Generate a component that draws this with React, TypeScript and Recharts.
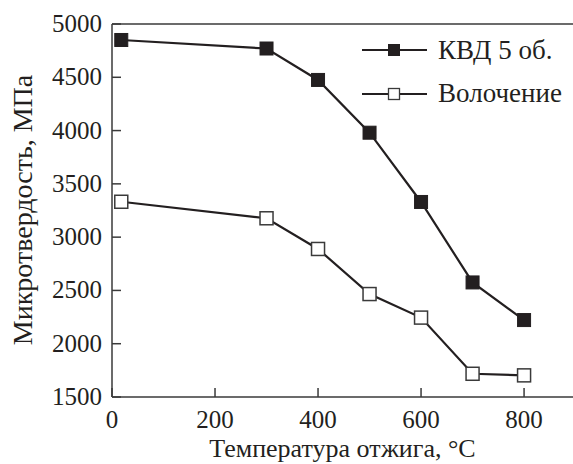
import React from 'react';
import { LineChart, Line, XAxis, YAxis, ReferenceLine, Label } from 'recharts';

const temperatures = [18, 300, 400, 500, 600, 700, 800];
const hptValues = [4850, 4770, 4475, 3980, 3330, 2575, 2222];
const drawingValues = [3332, 3177, 2889, 2466, 2245, 1718, 1703];
const xTicks = [0, 200, 400, 600, 800];
const yTicks = [1500, 2000, 2500, 3000, 3500, 4000, 4500, 5000];
const seriesNames = ['КВД 5 об.', 'Волочение'];
const xLabel = 'Температура отжига, °C';
const yLabel = 'Микротвердость, МПа';

const data = temperatures.map((t, i) => ({ t, hpt: hptValues[i], drawing: drawingValues[i] }));

const FONT = 'Liberation Serif';
const INK = '#231f20';
const AXIS = '#3a3a3a';
const textStyle = (size: number): React.CSSProperties => ({ fontFamily: FONT, fontSize: size, fill: INK });

const XTick = (props: any) => {
  const { x, y, payload } = props;
  return (
    <g>
      <line x1={x} x2={x} y1={y} y2={y - 9} stroke={AXIS} strokeWidth={1.5} />
      <text x={x} y={y + 31} textAnchor="middle" style={textStyle(25)}>
        {payload.value}
      </text>
    </g>
  );
};

const YTick = (props: any) => {
  const { x, y, payload } = props;
  return (
    <g>
      <line x1={x} x2={x + 9} y1={y} y2={y} stroke={AXIS} strokeWidth={1.5} />
      <text x={x - 10} y={y + 8} textAnchor="end" style={textStyle(25)}>
        {payload.value}
      </text>
    </g>
  );
};

const FilledSquare = (props: any) => {
  const { cx, cy } = props;
  if (cx == null || cy == null) return null;
  return <rect x={cx - 6.5} y={cy - 6.5} width={13} height={13} fill={INK} stroke={INK} strokeWidth={1} />;
};

const OpenSquare = (props: any) => {
  const { cx, cy } = props;
  if (cx == null || cy == null) return null;
  return <rect x={cx - 6.5} y={cy - 6.5} width={13} height={13} fill="#ffffff" stroke={AXIS} strokeWidth={1.5} />;
};

const LegendOverlay = () => (
  <svg width={223} height={90} style={{ position: 'absolute', left: 350, top: 30 }}>
    <line x1={12} x2={77} y1={20} y2={20} stroke={INK} strokeWidth={2.2} />
    <rect x={38} y={14} width={12} height={12} fill={INK} />
    <text x={88} y={28.5} style={textStyle(27)}>{seriesNames[0]}</text>
    <line x1={12} x2={77} y1={64} y2={64} stroke={INK} strokeWidth={2.2} />
    <rect x={38.5} y={58.5} width={11} height={11} fill="#ffffff" stroke={AXIS} strokeWidth={1.3} />
    <text x={88} y={72} style={textStyle(27)}>{seriesNames[1]}</text>
  </svg>
);

export default function App() {
  return (
    <div style={{ position: 'absolute', left: 0, top: 0, width: 573, height: 464, background: '#fff', fontFamily: FONT }}>
      <LineChart width={573} height={464} data={data} margin={{ top: 24, right: 0, bottom: 0, left: 0 }}>
        <XAxis
          type="number"
          dataKey="t"
          domain={[0, 895]}
          ticks={xTicks}
          interval={0}
          height={67}
          tickSize={0}
          tickMargin={0}
          tickLine={false}
          tick={<XTick />}
          axisLine={{ stroke: AXIS, strokeWidth: 1.5 }}
        >
          <Label
            content={() => (
              <text x={342.5} y={457} textAnchor="middle" style={textStyle(26)}>
                {xLabel}
              </text>
            )}
          />
        </XAxis>
        <YAxis
          type="number"
          domain={[1500, 5000]}
          ticks={yTicks}
          interval={0}
          width={112}
          tickSize={0}
          tickMargin={0}
          tickLine={false}
          tick={<YTick />}
          axisLine={{ stroke: AXIS, strokeWidth: 1.5 }}
        >
          <Label
            content={() => (
              <text x={32} y={210} transform="rotate(-90 32 210)" textAnchor="middle" style={textStyle(28)}>
                {yLabel}
              </text>
            )}
          />
        </YAxis>
        <ReferenceLine y={5000} stroke={AXIS} strokeWidth={1.5} />
        <Line
          type="linear"
          dataKey="hpt"
          name={seriesNames[0]}
          stroke={INK}
          strokeWidth={2.2}
          dot={<FilledSquare />}
          activeDot={false}
          isAnimationActive={false}
        />
        <Line
          type="linear"
          dataKey="drawing"
          name={seriesNames[1]}
          stroke={INK}
          strokeWidth={2.2}
          dot={<OpenSquare />}
          activeDot={false}
          isAnimationActive={false}
        />
      </LineChart>
      <LegendOverlay />
    </div>
  );
}
